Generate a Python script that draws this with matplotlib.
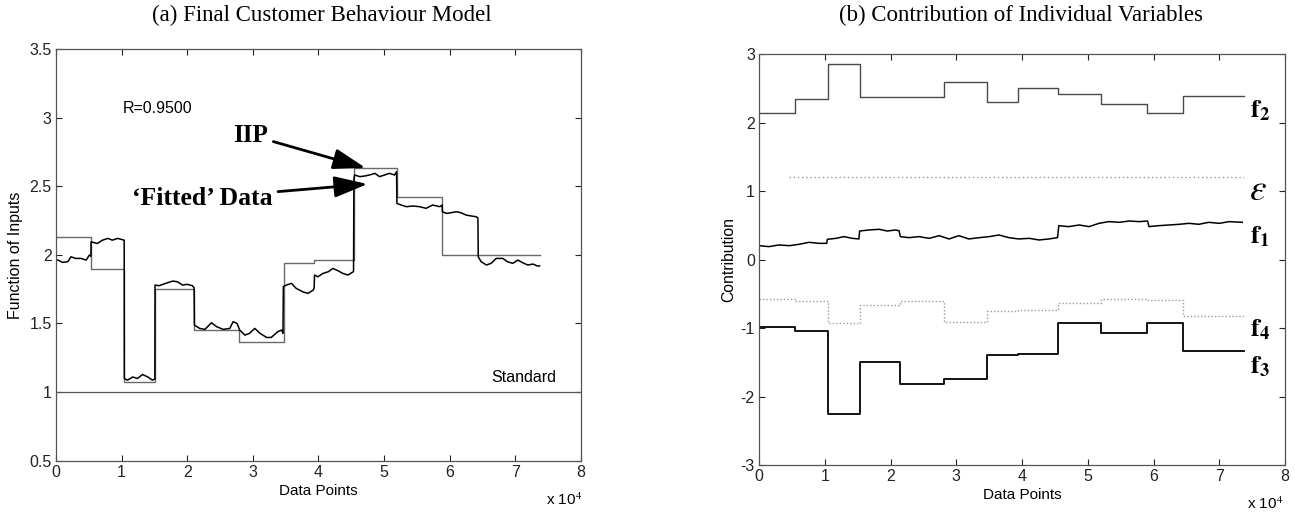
import numpy as np
import matplotlib
matplotlib.use('Agg')
import matplotlib.pyplot as plt

plt.rcParams['font.family'] = ['Liberation Sans', 'DejaVu Sans']
plt.rcParams['mathtext.fontset'] = 'stix'
plt.rcParams['axes.unicode_minus'] = False

# ---- panel (a): IIP step and fitted data (x in units of 1e4) ----
iip_edges = [0, 0.54, 1.04, 1.51, 2.10, 2.79, 3.47, 3.93, 4.54, 5.19, 5.89, 7.37]
iip_levels = [2.13, 1.90, 1.07, 1.75, 1.45, 1.365, 1.94, 1.965, 2.63, 2.425, 2.0]

fit_x = [0.0, 0.03, 0.10, 0.18, 0.23, 0.30, 0.38, 0.46, 0.51, 0.533,
         0.535, 0.63, 0.71, 0.79, 0.86, 0.94, 1.04,
         1.042, 1.09, 1.17, 1.24, 1.32, 1.40, 1.47, 1.507,
         1.51, 1.57, 1.67, 1.78, 1.85, 1.93, 2.00, 2.08, 2.105,
         2.11, 2.19, 2.27, 2.37, 2.45, 2.55, 2.65, 2.70, 2.76, 2.80, 2.88, 2.95, 3.03,
         3.11, 3.21, 3.28, 3.38, 3.44, 3.46,
         3.465, 3.51, 3.59, 3.66, 3.76, 3.84, 3.92, 3.935,
         3.94, 3.99, 4.07, 4.15, 4.22, 4.30, 4.37, 4.45, 4.53, 4.535,
         4.54, 4.55, 4.63, 4.70, 4.78, 4.86, 4.93, 5.01, 5.08, 5.16, 5.19,
         5.196, 5.26, 5.34, 5.44, 5.54, 5.64, 5.74, 5.85, 5.885,
         5.89, 5.95, 6.02, 6.10, 6.17, 6.25, 6.33, 6.40, 6.43,
         6.435, 6.48, 6.56, 6.63, 6.71, 6.81, 6.88, 6.96, 7.04, 7.11, 7.19, 7.27, 7.34, 7.37]
fit_y = [1.96, 1.962, 1.945, 1.95, 1.986, 1.974, 1.974, 1.962, 1.998, 1.99,
         2.095, 2.083, 2.107, 2.12, 2.107, 2.12, 2.107,
         1.099, 1.087, 1.11, 1.099, 1.128, 1.11, 1.087, 1.095,
         1.78, 1.775, 1.792, 1.809, 1.804, 1.78, 1.785, 1.775, 1.76,
         1.488, 1.464, 1.457, 1.505, 1.476, 1.457, 1.464, 1.513, 1.50, 1.452, 1.415, 1.428, 1.464,
         1.428, 1.398, 1.398, 1.44, 1.452, 1.428,
         1.768, 1.78, 1.792, 1.756, 1.731, 1.719, 1.743, 1.76,
         1.853, 1.84, 1.865, 1.877, 1.901, 1.884, 1.865, 1.853, 1.877, 1.88,
         2.55, 2.582, 2.57, 2.574, 2.582, 2.594, 2.57, 2.582, 2.594, 2.582, 2.606,
         2.375, 2.363, 2.351, 2.356, 2.351, 2.339, 2.363, 2.351, 2.363,
         2.314, 2.302, 2.307, 2.314, 2.307, 2.29, 2.283, 2.278, 2.27,
         1.986, 1.95, 1.926, 1.938, 1.974, 1.974, 1.95, 1.938, 1.962, 1.943, 1.926, 1.933, 1.918, 1.92]

standard_level = 1.0

# ---- panel (b): contributions ----
b_edges = [0, 0.55, 1.05, 1.54, 2.14, 2.82, 3.47, 3.94, 4.55, 5.20, 5.90, 6.45, 7.37]
f2_levels = [2.14, 2.35, 2.85, 2.37, 2.37, 2.59, 2.30, 2.51, 2.41, 2.27, 2.14, 2.39]
f3_levels = [-0.98, -1.04, -2.25, -1.50, -1.82, -1.75, -1.40, -1.38, -0.92, -1.08, -0.93, -1.34]
f4_levels = [-0.57, -0.61, -0.93, -0.67, -0.60, -0.91, -0.75, -0.73, -0.64, -0.58, -0.59, -0.82]
eps_level = 1.2

f1_x = [0.0, 0.15, 0.30, 0.46, 0.61, 0.76, 0.91, 1.03,
        1.04, 1.17, 1.29, 1.42, 1.52,
        1.53, 1.67, 1.83, 1.95, 2.08, 2.13,
        2.15, 2.28, 2.43, 2.59, 2.74, 2.89, 3.04, 3.19, 3.35, 3.50, 3.65, 3.80, 3.95,
        4.11, 4.26, 4.41, 4.54,
        4.56, 4.71, 4.87, 5.02, 5.17, 5.32, 5.48, 5.63, 5.78, 5.91,
        5.93, 6.08, 6.24, 6.39, 6.54, 6.69, 6.84, 7.00, 7.15, 7.35]
f1_y = [0.202, 0.188, 0.212, 0.202, 0.222, 0.251, 0.236, 0.236,
        0.295, 0.309, 0.334, 0.309, 0.30,
        0.416, 0.431, 0.441, 0.416, 0.431, 0.42,
        0.334, 0.319, 0.334, 0.309, 0.348, 0.30, 0.348, 0.30, 0.319, 0.334, 0.358, 0.319, 0.30,
        0.309, 0.285, 0.30, 0.319,
        0.494, 0.48, 0.504, 0.48, 0.528, 0.553, 0.543, 0.562, 0.553, 0.562,
        0.48, 0.494, 0.504, 0.514, 0.528, 0.514, 0.543, 0.528, 0.553, 0.543]


def step_xy(edges, levels):
    return np.array(edges), np.append(levels, levels[-1])


def style_axes(ax, yticks):
    ax.set_xlim(0, 8)
    ax.set_xticks(range(0, 9))
    ax.set_yticks(yticks)
    ax.tick_params(direction='in', top=True, right=True, length=4, width=0.8,
                   labelsize=11.5, pad=3, colors='#222222')
    for s in ax.spines.values():
        s.set_color('#555555')
        s.set_linewidth(0.9)
    ax.set_xlabel('Data Points', fontsize=11, labelpad=3)


fig = plt.figure(figsize=(12.95, 5.12), dpi=100)
ax1 = fig.add_axes([0.0432, 0.1002, 0.4054, 0.8041])
ax2 = fig.add_axes([0.5861, 0.0918, 0.4062, 0.8027])

# panel (a)
x, y = step_xy(iip_edges, iip_levels)
ax1.step(x, y, where='post', color='#6a6a6a', lw=1.0)
ax1.plot(fit_x, fit_y, color='black', lw=1.1)
ax1.axhline(standard_level, color='#555555', lw=0.9)
ax1.set_ylim(0.5, 3.5)
style_axes(ax1, [0.5, 1, 1.5, 2, 2.5, 3, 3.5])
ax1.set_yticklabels(['0.5', '1', '1.5', '2', '2.5', '3', '3.5'])
ax1.set_xticklabels([str(i) for i in range(9)])
ax1.set_ylabel('Function of Inputs', fontsize=11.5, labelpad=5)
fig.text(322 / 1295, 1 - 15 / 512, '(a) Final Customer Behaviour Model',
         family='Liberation Serif', fontsize=16.5, ha='center', va='center')
ax1.text(1.02, 3.07, 'R=0.9500', fontsize=11.5, va='center')
ax1.text(7.63, 1.05, 'Standard', fontsize=11.5, ha='right', va='bottom')
arrow = dict(arrowstyle='-|>,head_length=1.1,head_width=0.35', color='black', lw=2.0,
             shrinkA=2, shrinkB=0)
ax1.annotate('IIP', xy=(4.72, 2.633), xytext=(3.23, 2.873), fontsize=18,
             family='Liberation Serif', weight='bold', ha='right', va='center',
             arrowprops=arrow)
ax1.annotate('\u2018Fitted\u2019 Data', xy=(4.75, 2.516), xytext=(3.30, 2.414), fontsize=18.5,
             family='Liberation Serif', weight='bold', ha='right', va='center',
             arrowprops=arrow)
fig.text(546 / 1295, 1 - 500 / 512, r'x 10$^4$', fontsize=11, ha='left', va='center')

# panel (b)
x, y = step_xy(b_edges, f2_levels)
ax2.step(x, y, where='post', color='#4a4a4a', lw=1.0)
x, y = step_xy(b_edges, f4_levels)
ax2.step(x, y, where='post', color='#9a9a9a', lw=1.0, ls=(0, (1, 1.5)))
x, y = step_xy(b_edges, f3_levels)
ax2.step(x, y, where='post', color='black', lw=1.3)
ax2.plot(f1_x, f1_y, color='black', lw=1.1)
ax2.plot([0.45, 7.37], [eps_level, eps_level], color='#9a9a9a', lw=1.0, ls=(0, (1, 2)))
ax2.set_ylim(-3, 3)
style_axes(ax2, [-3, -2, -1, 0, 1, 2, 3])
ax2.set_ylabel('Contribution', fontsize=11.3, labelpad=3)
fig.text(1021 / 1295, 1 - 15 / 512, '(b) Contribution of Individual Variables',
         family='Liberation Serif', fontsize=16.5, ha='center', va='center')
lab = dict(fontsize=19, ha='left', va='center')
ax2.text(7.47, 2.17, r'$\mathbf{f}_{\mathbf{2}}$', **lab)
ax2.text(7.45, 1.02, r'$\varepsilon$', fontsize=27, ha='left', va='center')
ax2.text(7.47, 0.33, r'$\mathbf{f}_{\mathbf{1}}$', **lab)
ax2.text(7.47, -1.03, r'$\mathbf{f}_{\mathbf{4}}$', **lab)
ax2.text(7.47, -1.57, r'$\mathbf{f}_{\mathbf{3}}$', **lab)
fig.text(1247 / 1295, 1 - 504 / 512, r'x 10$^4$', fontsize=11, ha='left', va='center')

fig.savefig('out.png', dpi=100)
